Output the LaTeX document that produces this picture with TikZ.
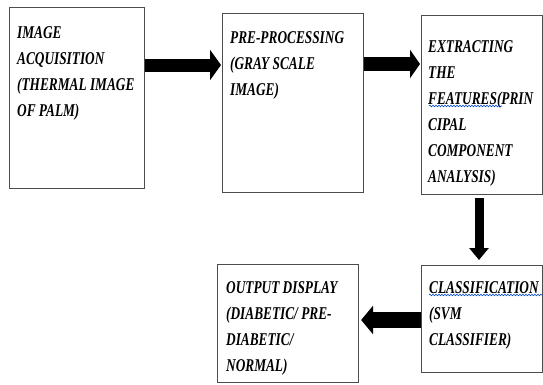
\documentclass[tikz,border=0pt]{standalone}
\usepackage{fontspec}
\setmainfont{Liberation Serif}
\usetikzlibrary{arrows.meta,decorations.pathmorphing}
\begin{document}
\begin{tikzpicture}[x=1pt,y=1pt,
  box/.style={draw=black!70,line width=1.1pt,fill=white,inner sep=0pt,anchor=north west},
  txt/.style={anchor=north west,inner sep=0pt,align=left,xscale=0.74,transform shape,
    font=\bfseries\itshape\fontsize{18}{26}\selectfont},
  bigarrow/.style={line width=#1,-{Triangle[width=30pt,length=11pt]}},
  spell/.style={draw=blue!65!cyan!80!black,line width=0.6pt,decorate,
    decoration={snake,amplitude=0.8pt,segment length=3pt}}]
\useasboundingbox (0,0) rectangle (543,-384);
% boxes
\node[box,minimum width=135pt,minimum height=181pt] (b1) at (9,-7) {};
\node[box,minimum width=141pt,minimum height=179pt] (b2) at (222,-13) {};
\node[box,minimum width=121pt,minimum height=179pt] (b3) at (421,-15) {};
\node[box,minimum width=121pt,minimum height=107pt] (b4) at (421,-265) {};
\node[box,minimum width=141pt,minimum height=118pt] (b5) at (217,-264) {};
% texts
\node[txt] (t1) at ([shift={(8,-19)}]b1.north west) {IMAGE\\ACQUISITION\\(THERMAL IMAGE\\OF PALM)};
\node[txt] (t2) at ([shift={(8,-18)}]b2.north west) {PRE-PROCESSING\\(GRAY SCALE\\IMAGE)};
\node[txt] (t3) at ([shift={(7,-25)}]b3.north west) {EXTRACTING\\THE\\FEATURES(PRIN\\CIPAL\\COMPONENT\\ANALYSIS)};
\node[txt] (t4) at ([shift={(8,-16)}]b4.north west) {CLASSIFICATION\\(SVM\\CLASSIFIER)};
\node[txt] (t5) at ([shift={(9,-17)}]b5.north west) {OUTPUT DISPLAY\\(DIABETIC/ PRE-\\DIABETIC/\\NORMAL)};
% spell-check underlines
\draw[spell] ([shift={(8,-91)}]b3.north west) -- ([shift={(81,-91)}]b3.north west);
\draw[spell] ([shift={(8,-30)}]b4.north west) -- ([shift={(121,-30)}]b4.north west);
% arrows
\draw[bigarrow=13pt] (b1.east |- 0,-65) -- ([xshift=-1pt]b2.west |- 0,-65);
\draw[bigarrow=14pt,-{Triangle[width=28pt,length=10pt]}] (b2.east |- 0,-64) -- ([xshift=-1pt]b3.west |- 0,-64);
\draw[line width=9pt,-{Triangle[width=19pt,length=12pt]}] ([yshift=-3pt]b3.south -| 479,0) -- ([yshift=5pt]b4.north -| 479,0);
\draw[line width=16pt,-{Triangle[width=28pt,length=12pt]}] (b4.west |- 0,-320) -- ([xshift=2pt]b5.east |- 0,-320);
\end{tikzpicture}
\end{document}
